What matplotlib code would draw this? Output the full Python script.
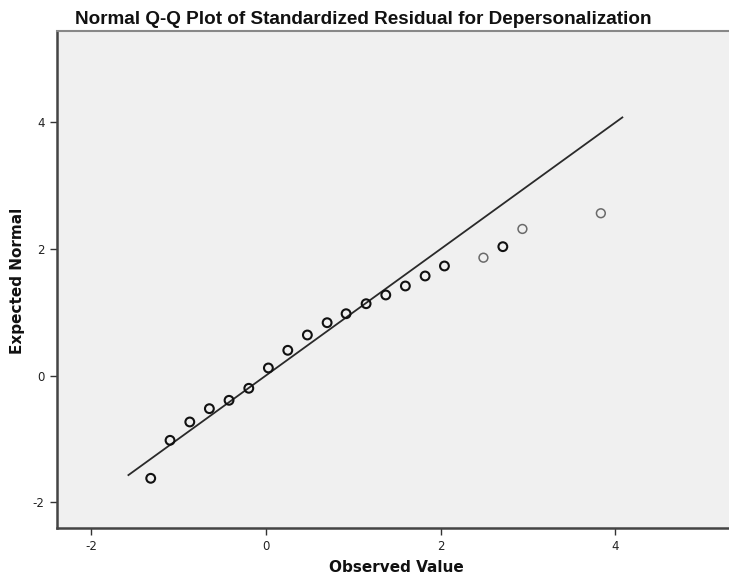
import matplotlib
matplotlib.use("Agg")
import matplotlib.pyplot as plt

plt.rcParams['font.family'] = ['Liberation Sans', 'DejaVu Sans']

# Data
observed = [-1.315, -1.094, -0.868, -0.644, -0.419, -0.193, 0.031, 0.253, 0.477,
            0.703, 0.920, 1.149, 1.374, 1.598, 1.824, 2.045, 2.491, 2.713, 2.937, 3.834]
expected = [-1.621, -1.021, -0.731, -0.521, -0.389, -0.199, 0.122, 0.401, 0.643,
            0.837, 0.979, 1.137, 1.275, 1.417, 1.575, 1.733, 1.864, 2.038, 2.318, 2.566]
# darker (overlapping cases) vs lighter (single case) markers
dark = [True] * 16 + [False, True, False, False]
ref_line = [-1.57, 4.08]
xticks = [-2, 0, 2, 4]
yticks = [-2, 0, 2, 4]

fig = plt.figure(figsize=(7.29, 5.83), dpi=100)
ax = fig.add_axes([57/729, 55/583, 1 - 57/729, (528 - 31)/583])
ax.set_facecolor('#F0F0F0')

ax.plot(ref_line, ref_line, color='#2a2a2a', lw=1.3, zorder=2)

xd = [x for x, d in zip(observed, dark) if d]
yd = [y for y, d in zip(expected, dark) if d]
xl = [x for x, d in zip(observed, dark) if not d]
yl = [y for y, d in zip(expected, dark) if not d]
ax.scatter(xd, yd, s=40, facecolors='none', edgecolors='#111111', linewidths=1.5, zorder=3)
ax.scatter(xl, yl, s=40, facecolors='none', edgecolors='#6a6a6a', linewidths=1.1, zorder=3)

ax.set_xlim(-2.387, 5.30)
ax.set_ylim(-2.406, 5.445)
ax.set_xticks(xticks)
ax.set_yticks(yticks)
ax.set_xticklabels([str(t) for t in xticks], family='DejaVu Sans')
ax.set_yticklabels([str(t) for t in yticks], family='DejaVu Sans')
ax.tick_params(axis='both', direction='out', length=5, width=1, color='#333333',
               labelsize=8.5, labelcolor='#222222', pad=4)

for side in ['left', 'bottom']:
    ax.spines[side].set_color('#444444')
    ax.spines[side].set_linewidth(1.8)
ax.spines['top'].set_color('#888888')
ax.spines['top'].set_linewidth(1.5)
ax.spines['right'].set_visible(False)

fig.text(363/729, 1 - 19/583, 'Normal Q-Q Plot of Standardized Residual for Depersonalization',
         ha='center', va='center', fontsize=13.6, fontweight='bold', color='#111111')
fig.text(396/729, 1 - 567/583, 'Observed Value', ha='center', va='center',
         fontsize=11, fontweight='bold', color='#111111', family='DejaVu Sans')
fig.text(18/729, 1 - 281/583, 'Expected Normal', ha='center', va='center', rotation=90,
         fontsize=11, fontweight='bold', color='#111111', family='DejaVu Sans')

fig.savefig('out.png', dpi=100)
